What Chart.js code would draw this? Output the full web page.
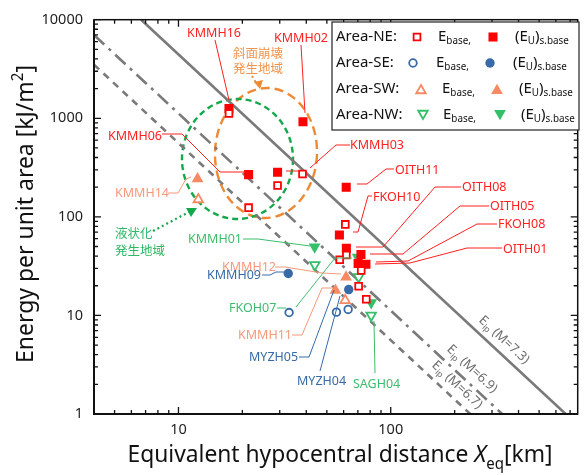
<!DOCTYPE html>
<html>
<head>
<meta charset="utf-8">
<script src="https://cdn.jsdelivr.net/npm/chart.js@4.4.0/dist/chart.umd.min.js"></script>
<style>
  body { margin: 0; background: #fff; }
  #wrap { width: 585px; height: 475px; position: relative; }
</style>
</head>
<body>
<div id="wrap"><canvas id="chart"></canvas></div>
<script>
// ------------------------
// DATA
// ------------------------
const xMin = 4, xMax = 760;
const yMin = 1, yMax = 10000;
const xTickLabels = [10, 100];
const yTickLabels = [1, 10, 100, 1000, 10000];

// Area-NE (squares)
const neBaseX = [17.3, 21.4, 29.3, 38.4, 61.1, 61.8, 57.5, 72.6, 70.6, 76.7];
const neBaseY = [1117, 124, 208, 272, 83.8, 41, 36.7, 28.6, 19.8, 14.6];
const neUX = [17.3, 38.6, 21.4, 29.3, 61.7, 57.3, 61.8, 72.4, 70.2, 76.4];
const neUY = [1253, 923, 268, 283, 200, 65.5, 48, 41.5, 33.7, 33.0];

// Area-SE (circles)
const seBaseX = [33.2, 55.5, 63.0];
const seBaseY = [10.7, 10.8, 11.5];
const seUX = [32.9, 63.4];
const seUY = [26.6, 18.3];

// Area-SW (triangles)
const swBaseX = [12.4, 61.0];
const swBaseY = [150, 14.2];
const swUX = [12.3, 61.6, 54.9];
const swUY = [243, 24.5, 18.0];

// Area-NW (down triangles)
const nwBaseX = [43.9, 70.6, 80.9];
const nwBaseY = [32.5, 24.6, 10.0];
const nwUX = [43.8, 69.8, 80.9];
const nwUY = [49.5, 39.0, 13.5];

// E_ip reference lines (end points)
const eipNames = ['7.3', '6.9', '6.7'];
const eip73X = [6.67, 667], eip73Y = [10000, 1];
const eip69X = [4, 335],    eip69Y = [7000, 1];
const eip67X = [4, 237],    eip67Y = [3500, 1];

// ------------------------
// STYLE
// ------------------------
const FONT = '"Noto Sans", "Noto Sans CJK JP", sans-serif';
const JFONT = '"Noto Sans CJK JP", sans-serif';
const RED = '#ff0000', BLUE = '#376aa6', SALMON = '#f78a64', GREEN = '#34c06a', GRAY = '#7a7a7a';

const pts = (xs, ys) => xs.map((x, i) => ({ x, y: ys[i] }));

function openSet(xs, ys, color, style, r, rot) {
  return { data: pts(xs, ys), pointStyle: style, pointRadius: r, pointRotation: rot || 0,
    pointBackgroundColor: '#fff', pointBorderColor: color, pointBorderWidth: 1.8,
    showLine: false, order: 0 };
}
function fillSet(xs, ys, color, style, r, rot) {
  return { data: pts(xs, ys), pointStyle: style, pointRadius: r, pointRotation: rot || 0,
    pointBackgroundColor: color, pointBorderColor: color, pointBorderWidth: 0,
    showLine: false, order: 1 };
}
function lineSet(xs, ys, dash) {
  return { data: pts(xs, ys), showLine: true, borderColor: GRAY, borderWidth: 2.6,
    borderDash: dash, pointRadius: 0, fill: false, order: 10 };
}

// ------------------------
// TEXT HELPERS
// ------------------------
function runFont(r, size) {
  const s = (r.sub || r.sup) ? size * 0.66 : size;
  return (r.it ? 'italic ' : '') + s.toFixed(1) + 'px ' + (r.jp ? JFONT : FONT);
}
function drawRuns(ctx, runs, x, y, size, align, fitW) {
  ctx.save();
  let w = 0;
  runs.forEach(r => { ctx.font = runFont(r, size); w += ctx.measureText(r.t).width; });
  const sx = fitW ? fitW / w : 1;
  ctx.translate(x, y);
  ctx.scale(sx, 1);
  ctx.textAlign = 'left';
  let cx = align === 'center' ? -w / 2 : 0;
  runs.forEach(r => {
    ctx.font = runFont(r, size);
    const dy = r.sub ? size * 0.3 : r.sup ? -size * 0.42 : 0;
    ctx.fillText(r.t, cx, dy);
    cx += ctx.measureText(r.t).width;
  });
  ctx.restore();
}
function marker(ctx, style, x, y, r, fill, stroke, bw, rot) {
  ctx.save();
  ctx.beginPath();
  if (style === 'rect') {
    const s = r * Math.SQRT1_2;
    ctx.rect(x - s, y - s, 2 * s, 2 * s);
  } else if (style === 'circle') {
    ctx.arc(x, y, r, 0, Math.PI * 2);
  } else {
    const a0 = (rot || 0) * Math.PI / 180;
    for (let k = 0; k < 3; k++) {
      const a = a0 + k * 2 * Math.PI / 3;
      const px = x + Math.sin(a) * r, py = y - Math.cos(a) * r;
      k ? ctx.lineTo(px, py) : ctx.moveTo(px, py);
    }
    ctx.closePath();
  }
  ctx.fillStyle = fill; ctx.fill();
  if (bw) { ctx.lineWidth = bw; ctx.strokeStyle = stroke; ctx.stroke(); }
  ctx.restore();
}
function poly(ctx, p, color, w, dash) {
  ctx.save();
  ctx.strokeStyle = color; ctx.lineWidth = w || 1;
  ctx.setLineDash(dash || []);
  ctx.beginPath();
  p.forEach((q, i) => i ? ctx.lineTo(q[0], q[1]) : ctx.moveTo(q[0], q[1]));
  ctx.stroke();
  ctx.restore();
}

// ------------------------
// ANNOTATIONS (station labels + leader lines)
// ------------------------
const notes = [
  { t: 'KMMH16', c: '#ff2020', x: 187, y: 33, p: [[215, 40], [229, 100]] },
  { t: 'KMMH02', c: '#ff2020', x: 274, y: 38, p: [[301, 45], [305, 113]] },
  { t: 'KMMH06', c: '#ff2020', x: 108, y: 136, p: [[162, 134], [182, 134], [220, 172], [244, 172]] },
  { t: 'KMMH03', c: '#ff2020', x: 350, y: 145, p: [[350, 145], [336, 145], [310, 168]] },
  { t: '', c: '#ff2020', x: 0, y: 0, p: [[286, 171], [300, 171]] },
  { t: 'OITH11', c: '#ff2020', x: 395, y: 170, p: [[394, 169], [386, 169], [367, 184], [357, 184]] },
  { t: 'FKOH10', c: '#ff2020', x: 373, y: 197, p: [[372, 196], [368, 196], [358, 232], [353, 232]] },
  { t: 'OITH08', c: '#ff2020', x: 462, y: 187, p: [[461, 187], [435, 187], [383, 247], [356, 247]] },
  { t: 'OITH05', c: '#ff2020', x: 490, y: 206, p: [[489, 206], [460, 206], [403, 254], [370, 254]] },
  { t: 'FKOH08', c: '#ff2020', x: 498, y: 224, p: [[497, 224], [477, 224], [408, 261], [376, 262]] },
  { t: 'OITH01', c: '#ff2020', x: 503, y: 249, p: [[502, 248], [467, 248], [410, 263], [375, 264]] },
  { t: 'KMMH14', c: '#f7987a', x: 115, y: 193, p: [[168, 193], [178, 193], [186, 179], [191, 177]] },
  { t: 'KMMH01', c: '#3dbd6c', x: 188, y: 239, p: [[243, 239], [258, 239], [310, 246]] },
  { t: 'KMMH12', c: '#f7987a', x: 222, y: 267, p: [[275, 267], [285, 267], [322, 273], [341, 274]] },
  { t: 'KMMH09', c: BLUE, x: 207, y: 275, p: [[262, 275], [270, 275], [276, 272], [285, 272]] },
  { t: 'FKOH07', c: '#3dbd6c', x: 229, y: 308, p: [[277, 308], [286, 308]] },
  { t: '', c: '#3dbd6c', x: 0, y: 0, p: [[296, 307], [335, 258], [352, 258]] },
  { t: 'KMMH11', c: '#f7987a', x: 238, y: 335, p: [[292, 335], [302, 335], [322, 288], [333, 288]] },
  { t: 'MYZH05', c: BLUE, x: 249, y: 357, p: [[299, 357], [309, 357], [334, 290]] },
  { t: 'MYZH04', c: BLUE, x: 297, y: 381, p: [[320, 371], [340, 296]] },
  { t: 'SAGH04', c: '#3dbd6c', x: 353, y: 384, p: [[375, 373], [374, 321]] }
];

// ------------------------
// PLUGINS
// ------------------------
const regions = {
  id: 'regions',
  beforeDatasetsDraw(chart) {
    const ctx = chart.ctx;
    ctx.save();
    ctx.lineWidth = 2.4;
    ctx.strokeStyle = '#ee8a35';
    ctx.setLineDash([9, 5]);
    ctx.beginPath(); ctx.ellipse(266, 153, 51, 65, 0.04, 0, Math.PI * 2); ctx.stroke();
    ctx.strokeStyle = '#15a84b';
    ctx.setLineDash([6, 4]);
    ctx.beginPath(); ctx.ellipse(237.5, 159, 55.5, 60, 0, 0, Math.PI * 2); ctx.stroke();
    ctx.restore();
  }
};

const decor = {
  id: 'decor',
  afterDatasetsDraw(chart) {
    const ctx = chart.ctx, a = chart.chartArea;
    const xs = chart.scales.x, ys = chart.scales.y;

    // frame
    ctx.save();
    ctx.strokeStyle = '#111';
    ctx.lineWidth = 1.5;
    ctx.strokeRect(a.left, a.top, a.right - a.left, a.bottom - a.top);
    ctx.lineWidth = 2;
    poly(ctx, [[a.left, a.top], [a.left, a.bottom], [a.right, a.bottom]], '#111', 2);

    // inward ticks on all four sides
    ctx.lineWidth = 1.3;
    ctx.strokeStyle = '#111';
    ctx.beginPath();
    xs.ticks.forEach(t => {
      const v = t.value, px = xs.getPixelForValue(v);
      if (px < a.left + 0.5 || px > a.right - 0.5) return;
      const m = v / Math.pow(10, Math.floor(Math.log10(v) + 1e-9));
      if (Math.abs(m - Math.round(m)) > 1e-6) return;
      const len = Math.abs(m - 1) < 1e-6 ? 7 : 4;
      ctx.moveTo(px, a.bottom); ctx.lineTo(px, a.bottom - len);
      ctx.moveTo(px, a.top); ctx.lineTo(px, a.top + len);
    });
    ys.ticks.forEach(t => {
      const v = t.value, py = ys.getPixelForValue(v);
      if (py < a.top - 0.5 || py > a.bottom + 0.5) return;
      const m = v / Math.pow(10, Math.floor(Math.log10(v) + 1e-9));
      if (Math.abs(m - Math.round(m)) > 1e-6) return;
      const len = Math.abs(m - 1) < 1e-6 ? 7 : 4;
      ctx.moveTo(a.left, py); ctx.lineTo(a.left + len, py);
      ctx.moveTo(a.right, py); ctx.lineTo(a.right - len, py);
    });
    ctx.stroke();
    ctx.restore();

    // E_ip line labels
    const ang = Math.atan2(2 * (ys.bottom - ys.top) / 4, (xs.right - xs.left) / Math.log10(xMax / xMin));
    const lblPos = [[504, 340], [472, 369], [457, 385]];
    ctx.save();
    ctx.fillStyle = '#6e6e6e';
    ctx.textBaseline = 'middle';
    eipNames.forEach((n, i) => {
      ctx.save();
      ctx.translate(lblPos[i][0], lblPos[i][1]);
      ctx.rotate(ang);
      drawRuns(ctx, [{ t: 'E' }, { t: 'ip', sub: true }, { t: ' (M=' + n + ')' }], 0, 0, 13, 'center');
      ctx.restore();
    });
    ctx.restore();

    // station labels
    ctx.save();
    ctx.textBaseline = 'middle';
    ctx.font = '12.5px ' + FONT;
    notes.forEach(n => {
      poly(ctx, n.p, n.c, 1);
      if (n.t) { ctx.fillStyle = n.c; ctx.fillText(n.t, n.x, n.y); }
    });
    ctx.restore();

    // region captions
    ctx.save();
    ctx.textBaseline = 'middle';
    ctx.font = '12.5px ' + JFONT;
    ctx.fillStyle = '#f0944d';
    ctx.fillText('斜面崩壊', 233, 53);
    ctx.fillText('発生地域', 233, 68);
    poly(ctx, [[252, 76], [257, 84]], '#ee8a35', 2, [2, 3]);
    ctx.fillStyle = '#ee8a35';
    ctx.beginPath(); ctx.moveTo(254, 82); ctx.lineTo(263, 80); ctx.lineTo(260, 89); ctx.closePath(); ctx.fill();
    ctx.fillStyle = '#2fb865';
    ctx.fillText('液状化', 115, 233);
    ctx.fillText('発生地域', 115, 250);
    poly(ctx, [[153, 231], [189, 212]], '#15a84b', 2.2, [2, 3]);
    ctx.fillStyle = '#15a84b';
    ctx.beginPath(); ctx.moveTo(197, 208); ctx.lineTo(186, 208); ctx.lineTo(191, 217); ctx.closePath(); ctx.fill();
    ctx.restore();

    // legend
    ctx.save();
    ctx.fillStyle = '#fff';
    ctx.fillRect(332, 22, 247, 108);
    ctx.strokeStyle = '#222';
    ctx.lineWidth = 1.2;
    ctx.strokeRect(332, 22, 247, 108);
    ctx.fillStyle = '#111';
    ctx.textBaseline = 'middle';
    const rows = [
      { name: 'Area-NE:', y: 37, c: RED, s: 'rect', ro: 4.8, rf: 6.4, rot: 0, m1: 417, t1: 438, m2: 493, t2: 515 },
      { name: 'Area-SE:', y: 63, c: BLUE, s: 'circle', ro: 3.8, rf: 4.7, rot: 0, m1: 413, t1: 436, m2: 490, t2: 513 },
      { name: 'Area-SW:', y: 89, c: SALMON, s: 'triangle', ro: 5.5, rf: 6.8, rot: 0, m1: 421, t1: 442, m2: 497, t2: 519 },
      { name: 'Area-NW:', y: 115, c: GREEN, s: 'triangle', ro: 5.5, rf: 6.8, rot: 180, m1: 423, t1: 443, m2: 500, t2: 521 }
    ];
    rows.forEach(r => {
      ctx.fillStyle = '#111';
      drawRuns(ctx, [{ t: r.name }], 336, r.y, 15, 'left');
      const dy = r.s === 'triangle' ? (r.rot ? -1.5 : 1.5) : 0;
      marker(ctx, r.s, r.m1, r.y + dy, r.ro, '#fff', r.c, 1.8, r.rot);
      marker(ctx, r.s, r.m2, r.y + dy, r.rf, r.c, r.c, 0, r.rot);
      ctx.fillStyle = '#111';
      drawRuns(ctx, [{ t: 'E' }, { t: 'base,', sub: true }], r.t1, r.y, 15, 'left');
      drawRuns(ctx, [{ t: '(E' }, { t: 'U', sub: true }, { t: ')' }, { t: 's.base', sub: true }], r.t2, r.y, 15, 'left');
    });
    ctx.restore();

    // axis titles
    ctx.save();
    ctx.fillStyle = '#111';
    ctx.textBaseline = 'alphabetic';
    drawRuns(ctx, [{ t: 'Equivalent hypocentral distance ' }, { t: 'X', it: true }, { t: 'eq', sub: true }, { t: '[km]' }],
      340, 462, 24, 'center', 425);
    ctx.translate(33, 214);
    ctx.rotate(-Math.PI / 2);
    drawRuns(ctx, [{ t: 'Energy per unit area [kJ/m' }, { t: '2', sup: true }, { t: ']' }], 0, 0, 24, 'center', 298);
    ctx.restore();
  }
};

// ------------------------
// CHART
// ------------------------
Chart.defaults.font.family = FONT;
const showTick = list => v => list.some(t => Math.abs(t - v) < 1e-6 * t) ? String(v) : '';

new Chart(document.getElementById('chart'), {
  type: 'scatter',
  data: {
    datasets: [
      lineSet(eip73X, eip73Y, []),
      lineSet(eip69X, eip69Y, [14, 6, 3, 6]),
      lineSet(eip67X, eip67Y, [7, 6]),
      openSet(neBaseX, neBaseY, RED, 'rect', 4.8),
      fillSet(neUX, neUY, RED, 'rect', 6.4),
      openSet(seBaseX, seBaseY, BLUE, 'circle', 3.8),
      fillSet(seUX, seUY, BLUE, 'circle', 4.7),
      openSet(swBaseX, swBaseY, SALMON, 'triangle', 5.5),
      fillSet(swUX, swUY, SALMON, 'triangle', 6.8),
      openSet(nwBaseX, nwBaseY, GREEN, 'triangle', 5.5, 180),
      fillSet(nwUX, nwUY, GREEN, 'triangle', 6.8, 180)
    ]
  },
  options: {
    responsive: true,
    maintainAspectRatio: false,
    animation: false,
    layout: { padding: { top: 16, right: 2, left: 0, bottom: 0 } },
    plugins: { legend: { display: false }, tooltip: { enabled: false } },
    scales: {
      x: {
        type: 'logarithmic', min: xMin, max: xMax,
        grid: { display: false, drawTicks: false },
        border: { display: false },
        afterFit: s => { s.height = 61; },
        ticks: { autoSkip: false, maxRotation: 0, padding: 7, color: '#222',
          font: { size: 14.5 }, callback: showTick(xTickLabels) }
      },
      y: {
        type: 'logarithmic', min: yMin, max: yMax,
        grid: { display: false, drawTicks: false },
        border: { display: false },
        afterFit: s => { s.width = 94; },
        ticks: { autoSkip: false, padding: 11, color: '#222',
          font: { size: 14.5 }, callback: showTick(yTickLabels) }
      }
    }
  },
  plugins: [regions, decor]
});
</script>
</body>
</html>
